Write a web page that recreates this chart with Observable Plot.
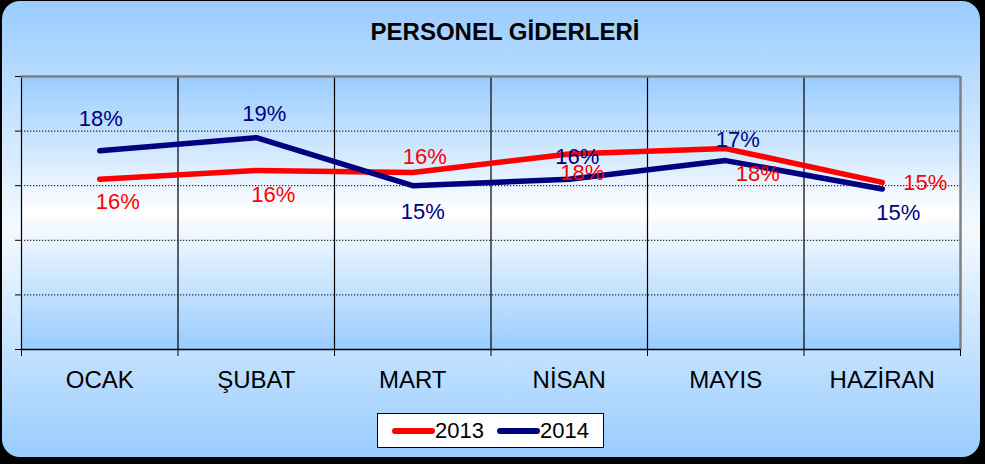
<!DOCTYPE html>
<html>
<head>
<meta charset="utf-8">
<script src="https://cdn.jsdelivr.net/npm/d3@7"></script>
<script src="https://cdn.jsdelivr.net/npm/@observablehq/plot@0.6"></script>
<style>
  html, body { margin: 0; padding: 0; background: #000; }
  #wrap { position: relative; width: 985px; height: 464px; background: #000; overflow: hidden; font-family: "Liberation Sans", Arial, sans-serif; }
  #panel { position: absolute; left: 2px; top: 1px; width: 978px; height: 456px; border-radius: 18px;
           background: linear-gradient(to bottom, #99ccff 0%, #f4faff 50%, #99ccff 100%); }
  #plotbg { position: absolute; left: 21px; top: 76px; width: 939px; height: 273px;
            background: linear-gradient(to bottom, #99ccff 0%, #ffffff 50%, #99ccff 100%); }
  #title { position: absolute; top: 18px; left: 0; width: 1010px; text-align: center; font-weight: bold; font-size: 24px; color: #000; }
  #chart { position: absolute; left: 0; top: 0; }
  #legend { position: absolute; left: 377px; top: 413px; width: 227px; height: 35px; background: #fff; border: 1px solid #000;
            display: flex; align-items: center; font-size: 22px; color: #000; box-sizing: border-box; padding-left: 14px; }
  .sw { display: inline-block; width: 43px; height: 6px; border-radius: 3px; }
</style>
</head>
<body>
<div id="wrap">
  <div id="panel"></div>
  <div id="plotbg"></div>
  <div id="title">PERSONEL GİDERLERİ</div>
  <div id="chart"></div>
  <div id="legend"></div>
</div>
<script>
// ---- data ----
const months = ["OCAK", "ŞUBAT", "MART", "NİSAN", "MAYIS", "HAZİRAN"];
const values2013 = [0.156, 0.164, 0.162, 0.179, 0.184, 0.153];
const values2014 = [0.182, 0.194, 0.150, 0.156, 0.173, 0.147];
const seriesNames = ["2013", "2014"];
const yTicks = [0, 0.05, 0.10, 0.15, 0.20, 0.25];

// ---- layout / style (not data) ----
const colors = {"2013": "#ff0000", "2014": "#000080"};
const labelOffsets = {
  "2013": [[18, 23], [17, 25], [12, -16], [13, 19], [32, 25], [43, 1]],
  "2014": [[1, -32], [8, -24], [10, 26], [8, -22], [12, -21], [16, 24]]
};

const rows = [];
seriesNames.forEach((s, si) => {
  const vals = si === 0 ? values2013 : values2014;
  months.forEach((m, i) => rows.push({series: s, month: m, idx: i, value: vals[i]}));
});

const fmt = d3.format(".0%");
const marks = [
  Plot.ruleY(yTicks.slice(1, -1), {stroke: "#000", strokeWidth: 1, strokeDasharray: "1.3,1.7"}),
  Plot.ruleX(d3.range(0, months.length), {stroke: "#000", strokeWidth: 1.2}),
  Plot.ruleX([months.length], {stroke: "#808080", strokeWidth: 2.5}),
  Plot.ruleY([yTicks[yTicks.length - 1]], {stroke: "#808080", strokeWidth: 2.5}),
  Plot.ruleY([0], {stroke: "#000", strokeWidth: 1.5}),
  Plot.axisY({ticks: yTicks, tickFormat: () => "", tickSize: 6, label: null}),
  Plot.axisX({ticks: d3.range(0, months.length + 1), tickFormat: () => "", tickSize: 7, label: null}),
  Plot.axisX({ticks: months.map((m, i) => i + 0.5), tickFormat: (d) => months[Math.floor(d)], tickSize: 0, tickPadding: 21, fontSize: 24, label: null})
];
seriesNames.forEach((s) => {
  const data = rows.filter((r) => r.series === s);
  marks.push(Plot.line(data, {x: (d) => d.idx + 0.5, y: "value", stroke: colors[s], strokeWidth: 5.5, strokeLinecap: "round", strokeLinejoin: "round"}));
});
seriesNames.forEach((s) => {
  rows.filter((r) => r.series === s).forEach((d, i) => {
    const [dx, dy] = labelOffsets[s][i];
    marks.push(Plot.text([d], {x: (r) => r.idx + 0.5, y: "value", text: (r) => fmt(r.value), fill: colors[s], fontSize: 22, dx, dy}));
  });
});

const chart = Plot.plot({
  width: 985,
  height: 400,
  marginLeft: 21,
  marginRight: 25,
  marginTop: 76,
  marginBottom: 51,
  x: {domain: [0, months.length]},
  y: {domain: [0, 0.25]},
  style: {background: "transparent", fontFamily: "'Liberation Sans', Arial, sans-serif", color: "#000", overflow: "visible"},
  marks
});
document.getElementById("chart").appendChild(chart);

const legend = document.getElementById("legend");
seriesNames.forEach((s, i) => {
  const sw = document.createElement("span");
  sw.className = "sw";
  sw.style.background = colors[s];
  if (i > 0) sw.style.marginLeft = "13px";
  const t = document.createElement("span");
  t.textContent = s;
  legend.appendChild(sw);
  legend.appendChild(t);
});
</script>
</body>
</html>
